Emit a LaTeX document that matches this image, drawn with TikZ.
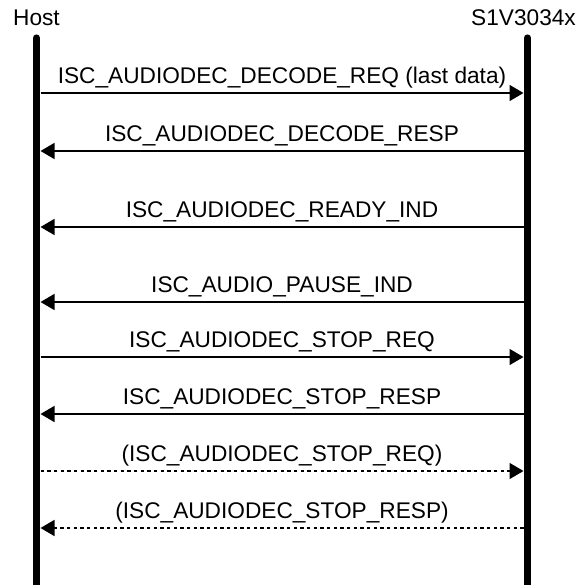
\documentclass[tikz,border=0pt]{standalone}
\usepackage{fontspec}
\setmainfont{Liberation Sans}
\usetikzlibrary{arrows.meta}
\tikzset{
  life/.style={line width=5.4pt, line cap=round},
  msg/.style={line width=1.1pt, -{Triangle[length=10.5pt,width=12pt]}},
  opt/.style={msg, dash pattern=on 2.5pt off 2.5pt},
  lbl/.style={midway, anchor=base, yshift=7pt, inner sep=0pt, font=\fontsize{17}{20}\selectfont},
  actor/.style={inner sep=0pt, font=\fontsize{17}{20}\selectfont}
}
\begin{document}
\begin{tikzpicture}[x=0.75pt,y=-0.75pt]
\useasboundingbox (0,0) rectangle (579,585);
\node[actor] (host) at (36.5,18) {Host};
\node[actor] (dev) at (523.5,18) {S1V3034x};
\coordinate (hostTop) at (36.5,38);
\coordinate (hostBot) at (36.5,592);
\coordinate (devTop) at (527.5,38);
\coordinate (devBot) at (527.5,592);
\draw[life] (hostTop) -- (hostBot);
\draw[life] (devTop) -- (devBot);
% message levels, at the edges of the two lifelines
\foreach \n/\y in {1/93,2/151,3/227,4/302,5/357,6/414,7/471,8/528}{
  \coordinate (h\n) at (40.5,\y);
  \coordinate (d\n) at (523.5,\y);
}
\draw[msg] (h1) -- node[lbl]{ISC\_AUDIODEC\_DECODE\_REQ (last data)} (d1);
\draw[msg] (d2) -- node[lbl]{ISC\_AUDIODEC\_DECODE\_RESP} (h2);
\draw[msg] (d3) -- node[lbl]{ISC\_AUDIODEC\_READY\_IND} (h3);
\draw[msg] (d4) -- node[lbl]{ISC\_AUDIO\_PAUSE\_IND} (h4);
\draw[msg] (h5) -- node[lbl]{ISC\_AUDIODEC\_STOP\_REQ} (d5);
\draw[msg] (d6) -- node[lbl]{ISC\_AUDIODEC\_STOP\_RESP} (h6);
\draw[opt] (h7) -- node[lbl]{(ISC\_AUDIODEC\_STOP\_REQ)} (d7);
\draw[opt] (d8) -- node[lbl]{(ISC\_AUDIODEC\_STOP\_RESP)} (h8);
\end{tikzpicture}
\end{document}
